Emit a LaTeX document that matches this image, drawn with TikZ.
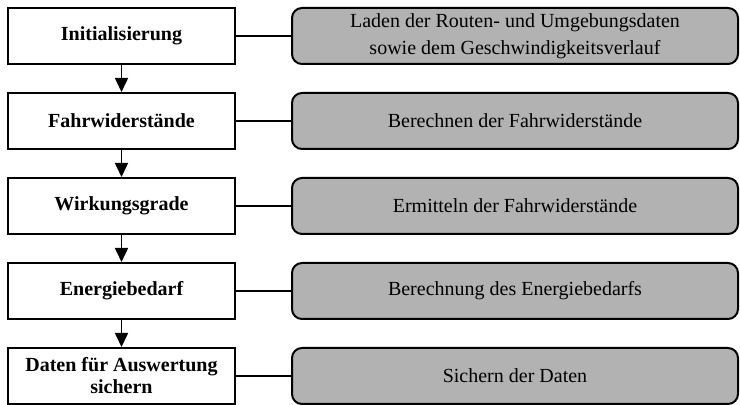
\documentclass[tikz,border=0pt]{standalone}
\usepackage{fontspec}
\setmainfont{Liberation Serif}
\usetikzlibrary{positioning,arrows.meta}

\tikzset{
  stepbox/.style={draw,line width=1pt,minimum width=113.5pt,minimum height=28pt,
    inner sep=0pt,align=center,font=\bfseries\fontsize{10}{11}\selectfont},
  infobox/.style={draw,line width=1pt,fill=black!30,rounded corners=5pt,
    minimum width=223pt,minimum height=28pt,inner sep=0pt,align=center,
    font=\fontsize{10}{13.5}\selectfont},
  flow/.style={line width=0.8pt,-{Triangle[length=7pt,width=6.5pt]}},
  link/.style={line width=0.8pt}
}

\begin{document}
\begin{tikzpicture}[x=1pt,y=1pt,node distance=13.5pt and 27.5pt]
  \useasboundingbox (0,0) rectangle (370,-202.5);
  % process steps on the left
  \node[stepbox] (init) at (60.75,-18) {Initialisierung};
  \node[stepbox,below=of init] (resist) {Fahrwiderstände};
  \node[stepbox,below=of resist] (eff) {Wirkungsgrade};
  \node[stepbox,below=of eff] (energy) {Energiebedarf};
  \node[stepbox,below=of energy] (save) {Daten für Auswertung\\sichern};
  % descriptions on the right
  \node[infobox,right=of init] (init-info) {Laden der Routen- und Umgebungsdaten\\sowie dem Geschwindigkeitsverlauf};
  \node[infobox,right=of resist] (resist-info) {Berechnen der Fahrwiderstände};
  \node[infobox,right=of eff] (eff-info) {Ermitteln der Fahrwiderstände};
  \node[infobox,right=of energy] (energy-info) {Berechnung des Energiebedarfs};
  \node[infobox,right=of save] (save-info) {Sichern der Daten};
  % arrows between the steps
  \foreach \a/\b in {init/resist,resist/eff,eff/energy,energy/save}
    \draw[flow] (\a) -- (\b);
  % links to the descriptions
  \foreach \a in {init,resist,eff,energy,save}
    \draw[link] (\a) -- (\a-info);
\end{tikzpicture}
\end{document}
